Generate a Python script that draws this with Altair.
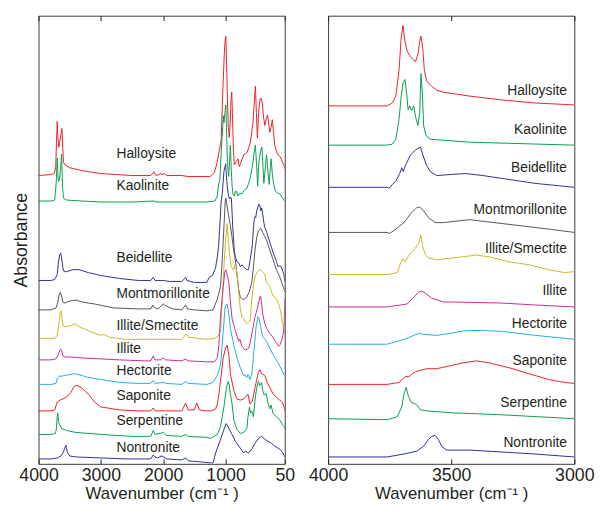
import altair as alt
import pandas as pd

MINERALS = ["Halloysite", "Kaolinite", "Beidellite", "Montmorillonite", "Illite/Smectite",
            "Illite", "Hectorite", "Saponite", "Serpentine", "Nontronite"]
COLORS = ["#ea2228", "#06a04e", "#2e3192", "#555557", "#c9b825",
          "#c92c92", "#22ade2", "#ea2228", "#06a04e", "#2e3192"]

# ---- full range spectra (wavenumber cm-1, offset absorbance a.u.) ----
HALLOYSITE_FULL = [(4000,294),(3800,295),(3750,296),(3725,302),(3712,328),(3700,349),(3690,333),(3675,323),(3660,328),(3640,336),(3625,342),(3612,323),(3600,308),(3580,305),(3500,302),(3300,299),(3000,296),(2500,294),(2200,294),(2160,297),(2150,298),(2130,295),(2100,294),(2040,296),(2020,295),(1980,296),(1950,294),(1700,294),(1600,293),(1250,293),(1180,297),(1140,306),(1112,316),(1095,321),(1070,330),(1045,378),(1020,418),(1005,433),(995,436),(985,413),(970,373),(955,343),(940,333),(925,348),(910,373),(900,379),(890,358),(875,323),(859,305),(830,308),(800,311),(780,303),(760,306),(740,310),(700,316),(680,316),(650,318),(600,328),(560,348),(535,373),(521,385),(505,358),(489,332),(470,358),(448,371),(430,373),(410,368),(390,353),(369,345),(350,351),(326,356),(310,348),(290,338),(270,343),(250,351),(230,338),(211,325),(180,318),(157,315),(120,313),(90,308),(65,305),(50,301)]
KAOLINITE_FULL = [(4000,268),(3800,268),(3740,269),(3715,288),(3700,312),(3690,296),(3680,288),(3665,290),(3650,298),(3630,316),(3615,283),(3600,271),(3550,269),(3300,268),(3000,267),(2500,267),(2150,268),(2100,267),(1700,267),(1300,267),(1170,268),(1132,273),(1112,285),(1090,290),(1069,318),(1045,343),(1037,355),(1025,348),(1010,358),(995,366),(985,343),(970,308),(950,293),(935,308),(922,325),(910,303),(895,283),(879,275),(860,273),(840,278),(827,278),(800,273),(770,276),(740,275),(700,279),(658,281),(630,286),(606,291),(570,303),(540,318),(521,325),(500,303),(485,283),(470,303),(458,311),(440,318),(417,323),(400,303),(385,286),(360,303),(342,315),(320,298),(300,285),(280,303),(268,311),(250,296),(230,286),(200,278),(160,276),(120,275),(90,271),(60,269),(50,268)]
BEIDELLITE_FULL = [(4000,187),(3800,187),(3740,188),(3700,193),(3680,206),(3660,213),(3645,215),(3630,210),(3610,200),(3590,196),(3550,196),(3450,198),(3350,198),(3200,195),(3000,192),(2700,189),(2400,187),(2200,187),(2160,190),(2130,187),(2000,187),(1900,186),(1700,186),(1640,190),(1620,187),(1500,185),(1300,185),(1263,190),(1211,192),(1160,200),(1132,211),(1110,223),(1096,238),(1070,268),(1053,275),(1026,298),(998,306),(980,288),(958,275),(935,270),(920,272),(906,271),(884,241),(860,218),(843,211),(815,206),(789,205),(760,201),(737,203),(700,200),(660,198),(631,198),(606,208),(580,218),(568,225),(550,243),(537,250),(525,252),(516,251),(500,258),(484,261),(470,264),(460,265),(448,263),(435,258),(421,261),(400,253),(385,246),(369,241),(340,236),(315,231),(290,226),(263,221),(240,216),(211,211),(180,206),(157,201),(130,202),(105,201),(80,196),(63,193),(50,186)]
MONTMORILLONITE_FULL = [(4000,157),(3800,157),(3720,159),(3690,165),(3670,172),(3650,175),(3630,171),(3610,165),(3580,164),(3500,166),(3400,167),(3300,165),(3100,163),(2800,159),(2400,158),(2200,158),(2165,162),(2130,159),(2080,158),(2000,163),(1950,161),(1850,158),(1700,157),(1640,162),(1610,158),(1500,157),(1300,156),(1200,157),(1132,168),(1080,181),(1053,208),(1026,241),(1005,268),(995,271),(975,263),(950,253),(922,243),(900,233),(870,218),(843,208),(815,193),(789,178),(763,170),(730,168),(700,168),(660,170),(622,175),(579,185),(552,201),(527,218),(500,231),(473,238),(450,239),(432,240),(405,236),(370,232),(342,228),(290,218),(236,208),(184,198),(132,191),(78,181),(50,176)]
ILLITE_SMECTITE_FULL = [(4000,128),(3800,128),(3740,128),(3700,131),(3670,145),(3650,155),(3635,156),(3620,145),(3600,140),(3550,140),(3480,141),(3420,143),(3350,140),(3250,137),(3100,133),(3000,131),(2950,132),(2850,129),(2600,127),(2000,127),(1700,127),(1650,131),(1620,132),(1590,129),(1450,128),(1300,127),(1180,128),(1120,130),(1080,135),(1050,168),(1026,201),(1000,228),(974,245),(955,228),(938,215),(920,206),(906,201),(880,198),(868,198),(850,203),(830,200),(800,183),(789,175),(763,158),(740,150),(710,148),(680,144),(658,143),(630,145),(606,146),(579,168),(550,183),(527,191),(500,195),(470,197),(448,198),(420,197),(405,196),(369,193),(342,185),(320,183),(290,181),(260,175),(236,171),(200,169),(184,168),(150,163),(132,160),(100,150),(89,145),(70,140),(50,133)]
ILLITE_FULL = [(4000,106),(3800,106),(3720,107),(3680,112),(3650,117),(3630,116),(3610,110),(3580,109),(3500,109),(3300,108),(3000,107),(2700,106),(2300,105),(2200,105),(2160,110),(2130,106),(2040,106),(2000,108),(1960,106),(1700,105),(1640,107),(1600,105),(1300,104),(1180,104),(1132,108),(1106,121),(1080,151),(1037,181),(1010,196),(995,198),(970,192),(947,185),(922,165),(895,148),(870,142),(843,136),(815,130),(789,125),(770,127),(737,120),(700,117),(685,116),(650,117),(627,118),(600,125),(570,135),(527,150),(500,156),(470,164),(450,170),(437,171),(420,163),(405,153),(370,143),(342,138),(290,133),(250,130),(200,125),(148,120),(120,122),(105,125),(78,131),(60,140),(50,168)]
HECTORITE_FULL = [(4000,81),(3800,81),(3720,82),(3700,87),(3680,88),(3660,90),(3640,89),(3600,90),(3500,91),(3420,92),(3300,90),(3200,88),(3000,86),(2700,83),(2400,82),(2200,82),(2160,85),(2130,82),(2000,83),(1950,82),(1700,81),(1640,84),(1600,82),(1300,81),(1200,83),(1132,90),(1080,101),(1037,135),(1010,158),(995,162),(975,163),(947,153),(922,138),(868,121),(816,108),(763,98),(710,90),(685,91),(660,88),(640,91),(606,86),(579,91),(540,118),(510,140),(480,150),(460,148),(437,140),(405,130),(342,125),(290,118),(236,111),(184,106),(132,100),(78,93),(50,90)]
SAPONITE_FULL = [(4000,54),(3800,54),(3740,55),(3720,59),(3700,63),(3650,65),(3550,68),(3480,73),(3430,79),(3380,80),(3300,77),(3200,71),(3100,63),(3000,58),(2700,55),(2400,54),(2200,54),(2160,57),(2130,54),(1700,54),(1640,62),(1600,55),(1500,55),(1460,62),(1420,55),(1300,54),(1238,54),(1160,56),(1132,61),(1106,71),(1080,85),(1037,108),(1001,118),(974,121),(947,111),(920,91),(868,75),(816,66),(763,65),(710,66),(680,68),(642,71),(606,61),(568,64),(527,78),(473,93),(448,96),(420,92),(369,90),(331,83),(290,78),(236,71),(184,68),(132,65),(89,63),(60,58),(50,54)]
SERPENTINE_FULL = [(4000,30),(3800,30),(3730,31),(3715,35),(3700,48),(3690,52),(3680,43),(3660,40),(3630,36),(3550,34),(3400,32),(3000,30),(2500,28),(2200,28),(2160,34),(2130,30),(2050,31),(2000,32),(1950,29),(1700,28),(1640,30),(1600,28),(1300,27),(1238,26),(1132,30),(1080,38),(1026,58),(985,78),(958,84),(940,80),(922,71),(895,61),(868,45),(816,35),(763,31),(710,32),(658,36),(640,48),(616,58),(600,52),(580,54),(552,48),(527,65),(500,78),(473,84),(450,80),(421,83),(405,75),(380,70),(350,72),(315,61),(290,56),(270,60),(236,51),(184,48),(132,45),(89,40),(60,38),(50,36)]
NONTRONITE_FULL = [(4000,5),(3800,5),(3700,6),(3640,8),(3600,12),(3575,17),(3560,19),(3540,12),(3500,8),(3400,7),(3000,6),(2600,5),(2200,5),(2160,9),(2130,7),(2090,6),(2030,8),(1990,7),(1950,5),(1700,4),(1640,6),(1600,3),(1400,2),(1250,1),(1200,1),(1159,11),(1120,18),(1080,25),(1026,35),(990,41),(960,38),(947,36),(895,30),(843,23),(763,16),(710,11),(680,13),(631,11),(579,15),(527,21),(473,26),(421,28),(369,25),(320,23),(263,21),(211,18),(132,15),(78,11),(50,7)]

# ---- OH-stretch region spectra (4000-3000 cm-1) ----
HALLOYSITE_OH = [(4000,365),(3760,365),(3739,368),(3725,375),(3712,401),(3703,435),(3696,447),(3688,431),(3679,421),(3665,415),(3645,410),(3635,418),(3628,431),(3623,436),(3616,425),(3609,401),(3599,390),(3579,385),(3559,381),(3532,379),(3425,375),(3292,371),(3159,368),(3000,366)]
KAOLINITE_OH = [(4000,325),(3760,325),(3740,326),(3725,331),(3712,351),(3703,375),(3696,388),(3688,392),(3681,378),(3675,361),(3668,365),(3661,360),(3652,365),(3644,353),(3635,345),(3628,358),(3623,398),(3617,378),(3612,345),(3603,335),(3585,331),(3532,330),(3425,328),(3000,325)]
BEIDELLITE_OH = [(4000,282),(3760,282),(3752,281),(3739,285),(3725,288),(3709,296),(3701,302),(3695,298),(3685,305),(3665,315),(3645,320),(3625,323),(3615,315),(3601,305),(3585,298),(3559,294),(3505,295),(3439,296),(3372,294),(3292,291),(3159,286),(3000,282)]
MONTMORILLONITE_OH = [(4000,236),(3760,236),(3750,235),(3732,238),(3692,246),(3665,255),(3641,261),(3628,262),(3612,258),(3592,251),(3565,246),(3532,246),(3425,249),(3359,247),(3225,243),(3092,239),(3000,236)]
ILLITE_SMECTITE_OH = [(4000,193),(3760,193),(3719,195),(3705,205),(3696,209),(3685,206),(3679,210),(3665,215),(3645,220),(3632,225),(3623,233),(3615,221),(3605,213),(3592,210),(3559,208),(3492,210),(3425,212),(3399,213),(3345,211),(3265,206),(3185,203),(3105,198),(3039,195),(3000,196)]
ILLITE_OH = [(4000,160),(3760,160),(3705,162),(3679,163),(3652,170),(3632,175),(3619,176),(3605,174),(3579,169),(3532,165),(3492,165),(3300,164),(3159,162),(3000,160)]
HECTORITE_OH = [(4000,122),(3760,122),(3705,126),(3679,128),(3652,131),(3632,133),(3612,132),(3559,131),(3505,133),(3439,136),(3372,136),(3292,135),(3159,131),(3000,127)]
SAPONITE_OH = [(4000,81),(3760,81),(3712,83),(3695,87),(3685,89),(3672,89),(3652,93),(3632,95),(3599,97),(3559,97),(3505,100),(3452,103),(3399,105),(3345,103),(3265,98),(3185,92),(3105,86),(3039,83),(3000,82)]
SERPENTINE_OH = [(4000,46),(3760,45),(3719,48),(3701,58),(3692,71),(3683,78),(3675,70),(3663,63),(3645,61),(3635,59),(3625,55),(3599,54),(3492,52),(3292,50),(3000,46)]
NONTRONITE_OH = [(4000,7),(3760,7),(3692,10),(3639,13),(3612,18),(3592,25),(3579,28),(3565,29),(3552,25),(3539,18),(3519,14),(3479,14),(3425,14),(3292,12),(3159,10),(3000,7)]

FULL = [HALLOYSITE_FULL, KAOLINITE_FULL, BEIDELLITE_FULL, MONTMORILLONITE_FULL, ILLITE_SMECTITE_FULL,
        ILLITE_FULL, HECTORITE_FULL, SAPONITE_FULL, SERPENTINE_FULL, NONTRONITE_FULL]
OH = [HALLOYSITE_OH, KAOLINITE_OH, BEIDELLITE_OH, MONTMORILLONITE_OH, ILLITE_SMECTITE_OH,
      ILLITE_OH, HECTORITE_OH, SAPONITE_OH, SERPENTINE_OH, NONTRONITE_OH]

# label anchors (wavenumber, absorbance level)
LEFT_LABEL_X = 2750
LEFT_LABEL_Y = [316, 283, 210, 173, 141, 117, 95, 69, 44, 16]
RIGHT_LABEL_X = 3030
RIGHT_LABEL_Y = [380, 340, 302, 259, 219, 176, 143, 105, 62, 21]

LEFT_TICKS = [4000, 3000, 2000, 1000, 50]
RIGHT_TICKS = [4000, 3500, 3000]
Y_DOMAIN = [0, 457]

FONT = "Liberation Sans"
INK = "#231f20"
XTITLE = "Wavenumber (cm\u207b\u00b9 )"


def table(spectra):
    return pd.DataFrame([{"mineral": m, "wavenumber": w, "absorbance": a}
                         for m, s in zip(MINERALS, spectra) for (w, a) in s])


def labels(xpos, ys):
    return pd.DataFrame({"mineral": MINERALS, "wavenumber": [xpos] * len(MINERALS), "absorbance": ys})


def panel(spectra, xdomain, ticks, lab_x, lab_y, align, ytitle):
    xscale = alt.Scale(domain=xdomain, reverse=True, nice=False, zero=False)
    yscale = alt.Scale(domain=Y_DOMAIN, nice=False, zero=False)
    if ytitle:
        yaxis = alt.Axis(title=ytitle, labels=False, ticks=False, domain=False, grid=False,
                         titlePadding=8, titleFontSize=18, titleFont=FONT, titleFontWeight="normal",
                         titleColor=INK)
    else:
        yaxis = None
    lines = alt.Chart(table(spectra)).mark_line(strokeWidth=1, clip=True).encode(
        x=alt.X("wavenumber:Q", scale=xscale,
                axis=alt.Axis(orient="bottom", values=ticks, title=XTITLE, grid=False, domain=False,
                              tickSize=5, offset=-5, tickColor=INK, labelPadding=3,
                              labelFlush=False, labelOverlap=False, labelFontSize=18, labelFont=FONT,
                              labelColor=INK, titleFontSize=17, titleFont=FONT,
                              titleFontWeight="normal", titleColor=INK, titlePadding=1,
                              format="d")),
        y=alt.Y("absorbance:Q", scale=yscale, axis=yaxis),
        color=alt.Color("mineral:N", scale=alt.Scale(domain=MINERALS, range=COLORS), legend=None),
    )
    text = alt.Chart(labels(lab_x, lab_y)).mark_text(
        align=align, baseline="middle", fontSize=14, font=FONT, color=INK
    ).encode(
        x=alt.X("wavenumber:Q", scale=xscale,
                axis=alt.Axis(orient="top", values=ticks, labels=False, title=None, grid=False,
                              domain=False, tickSize=5, offset=-5, tickColor=INK)),
        y=alt.Y("absorbance:Q", scale=yscale, axis=None),
        text="mineral:N",
    )
    return alt.layer(lines, text).resolve_axis(x="independent", y="independent").properties(
        width=250, height=455)


left = panel(FULL, [50, 4000], LEFT_TICKS, LEFT_LABEL_X, LEFT_LABEL_Y, "left", "Absorbance")
right = panel(OH, [3000, 4000], RIGHT_TICKS, RIGHT_LABEL_X, RIGHT_LABEL_Y, "right", None)

chart = alt.hconcat(left, right, spacing=44, bounds="flush").properties(
    padding={"left": 4, "top": 3, "right": 0, "bottom": 0}
).configure_view(stroke="#3a3a3a", strokeWidth=1)

chart.save("out.html", embed_options={"renderer": "svg", "actions": False})
